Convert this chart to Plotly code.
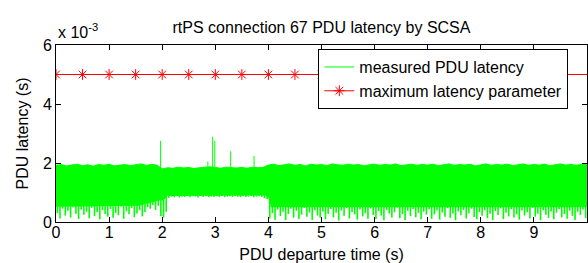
import numpy as np
import plotly.graph_objects as go

# ---- data (latency values in units of 1e-3 s) ----
# upper envelope of the measured PDU latency, every 0.1 s from 0.0 to 10.0 s
env_time = [round(0.1 * i, 1) for i in range(101)]
upper_ms = [
    1.92, 1.95, 1.90, 1.93, 1.96, 1.91, 1.94, 1.89, 1.95, 1.92,
    1.96, 1.90, 1.93, 1.95, 1.91, 1.94, 1.97, 1.92, 1.95, 1.93,
    1.80, 1.84, 1.82, 1.86, 1.83, 1.85, 1.81, 1.84, 1.86, 1.87,
    1.85, 1.82, 1.86, 1.84, 1.83, 1.85, 1.82, 1.86, 1.84, 1.85,
    1.93, 1.96, 1.91, 1.94, 1.97, 1.92, 1.95, 1.90, 1.96, 1.93,
    1.95, 1.91, 1.97, 1.94, 1.92, 1.96, 1.93, 1.95, 1.90, 1.94,
    1.96, 1.92, 1.95, 1.93, 1.97, 1.91, 1.94, 1.96, 1.92, 1.95,
    1.93, 1.96, 1.91, 1.94, 1.97, 1.92, 1.95, 1.93, 1.96, 1.90,
    1.94, 1.97, 1.92, 1.95, 1.93, 1.96, 1.91, 1.94, 1.97, 1.92,
    1.95, 1.93, 1.96, 1.91, 1.94, 1.97, 1.93, 1.95, 1.92, 1.96,
    1.94,
]
# solid lower edge of the dense band
floor_time = [0.0, 1.55, 1.8, 1.98, 2.02, 2.1, 3.95, 4.0, 4.05, 10.0]
floor_ms = [0.52, 0.55, 0.66, 0.75, 0.72, 0.88, 0.90, 0.82, 0.50, 0.50]
# downward excursions of the latency, every 0.05 s starting at 0.025 s
dip_ms = [
    0.30, 0.12, 0.45, 0.22, 0.38, 0.15, 0.50, 0.28, 0.10, 0.42,
    0.25, 0.35, 0.13, 0.48, 0.20, 0.33, 0.09, 0.40, 0.27, 0.18,
    0.44, 0.14, 0.31, 0.23, 0.52, 0.11, 0.36, 0.26, 0.47, 0.16,
    0.29, 0.40, 0.19, 0.34, 0.50, 0.45, 0.58, 0.41, 0.55, 0.20,
    0.15, 0.35, 0.82, 0.86, 0.84, 0.87, 0.83, 0.86, 0.85, 0.88,
    0.84, 0.87, 0.86, 0.83, 0.88, 0.85, 0.87, 0.84, 0.86, 0.85,
    0.87, 0.85, 0.88, 0.84, 0.86, 0.87, 0.85, 0.88, 0.86, 0.84,
    0.87, 0.85, 0.86, 0.88, 0.84, 0.86, 0.87, 0.85, 0.80, 0.78,
    0.12, 0.30, 0.08, 0.42, 0.20, 0.35, 0.06, 0.27, 0.45, 0.15,
    0.38, 0.10, 0.25, 0.48, 0.18, 0.32, 0.07, 0.40, 0.22, 0.14,
    0.36, 0.09, 0.28, 0.44, 0.16, 0.31, 0.05, 0.39, 0.21, 0.47,
    0.12, 0.34, 0.26, 0.08, 0.42, 0.19, 0.30, 0.11, 0.46, 0.24,
    0.10, 0.37, 0.22, 0.06, 0.41, 0.29, 0.15, 0.33, 0.49, 0.13,
    0.27, 0.07, 0.38, 0.20, 0.44, 0.16, 0.31, 0.09, 0.35, 0.25,
    0.43, 0.11, 0.26, 0.39, 0.08, 0.32, 0.18, 0.47, 0.14, 0.29,
    0.06, 0.36, 0.23, 0.41, 0.12, 0.30, 0.45, 0.17, 0.09, 0.34,
    0.21, 0.40, 0.13, 0.28, 0.07, 0.37, 0.24, 0.46, 0.10, 0.31,
    0.19, 0.43, 0.15, 0.26, 0.08, 0.39, 0.22, 0.33, 0.12, 0.48,
    0.18, 0.29, 0.06, 0.41, 0.25, 0.14, 0.36, 0.09, 0.32, 0.44,
    0.16, 0.27, 0.11, 0.38, 0.21, 0.07, 0.35, 0.24, 0.42, 0.13,
]
dip_time = [round(0.025 + 0.05 * i, 3) for i in range(len(dip_ms))]
# isolated latency spikes
spike_time = [1.97, 2.86, 2.95, 2.99, 3.29, 3.73]
spike_ms = [2.75, 2.05, 2.89, 2.75, 2.40, 2.24]

# maximum latency parameter
max_time = [0, 0.5, 1, 1.5, 2, 2.5, 3, 3.5, 4, 4.5, 5, 5.5, 6, 6.5, 7, 7.5, 8, 8.5, 9, 9.5]
max_ms = [5.0] * 20
max_end_time = [9.5, 10.0]
max_end_ms = [5.0, 5.0]

x_ticks = [0, 1, 2, 3, 4, 5, 6, 7, 8, 9]
y_ticks_ms = [0, 2, 4, 6]

S = 1e-3
green = "#00ff00"
fig = go.Figure()
# solid band
band_x = env_time + floor_time[::-1]
band_y = [u * S for u in upper_ms] + [f * S for f in floor_ms[::-1]]
fig.add_trace(go.Scatter(x=band_x, y=band_y, mode="none", fill="toself",
                         fillcolor=green, showlegend=False, legendgroup="m",
                         hoverinfo="skip"))
# upper edge (legend entry)
fig.add_trace(go.Scatter(x=env_time, y=[u * S for u in upper_ms], mode="lines",
                         line=dict(color=green, width=1),
                         name="measured PDU latency", legendgroup="m"))
# downward excursions and spikes
dx, dy = [], []
for t, v in zip(dip_time, dip_ms):
    dx += [t, t, None]
    dy += [1.2 * S, v * S, None]
fig.add_trace(go.Scatter(x=dx, y=dy, mode="lines", line=dict(color=green, width=1.6),
                         showlegend=False, legendgroup="m", hoverinfo="skip"))
sx, sy = [], []
for t, v in zip(spike_time, spike_ms):
    sx += [t, t, None]
    sy += [1.7 * S, v * S, None]
fig.add_trace(go.Scatter(x=sx, y=sy, mode="lines", line=dict(color=green, width=1),
                         showlegend=False, legendgroup="m", hoverinfo="skip"))
# maximum latency parameter
fig.add_trace(go.Scatter(x=max_end_time, y=[v * S for v in max_end_ms], mode="lines",
                         line=dict(color="red", width=1), showlegend=False))
fig.add_trace(go.Scatter(x=max_time, y=[v * S for v in max_ms], mode="lines+markers",
                         line=dict(color="red", width=1),
                         marker=dict(symbol="asterisk-open", size=9, color="red",
                                     line=dict(color="red", width=1)),
                         name="maximum latency parameter"))

font = dict(family="Liberation Sans, Arial, sans-serif", size=16, color="black")
fig.update_layout(
    width=588, height=263,
    margin=dict(l=56, r=1, t=45, b=41),
    paper_bgcolor="white", plot_bgcolor="white",
    font=font,
    title=dict(text="rtPS connection 67 PDU latency by SCSA", xref="paper", x=0.5,
               xanchor="center", yref="container", y=1 - 27 / 263, yanchor="middle",
               font=font),
    legend=dict(x=0.494, y=0.977, xanchor="left", yanchor="top",
                bgcolor="white", bordercolor="black", borderwidth=1,
                font=font, tracegroupgap=0, itemwidth=30),
    showlegend=True,
)
fig.update_xaxes(range=[0, 10], tickvals=x_ticks, ticktext=[str(v) for v in x_ticks],
                 showgrid=False, zeroline=False, showline=True, linecolor="black",
                 linewidth=1, mirror="ticks", ticks="inside", ticklen=5, tickcolor="black",
                 automargin=False, ticklabelstandoff=-4,
                 title=dict(text="PDU departure time (s)", standoff=10, font=font))
fig.update_yaxes(range=[0, 0.006], tickvals=[v * S for v in y_ticks_ms],
                 ticktext=[str(v) for v in y_ticks_ms],
                 showgrid=False, zeroline=False, showline=True, linecolor="black",
                 linewidth=1, mirror="ticks", ticks="inside", ticklen=5, tickcolor="black",
                 automargin=False,
                 title=dict(text="PDU latency (s)", standoff=10, font=font))
fig.add_annotation(text="x 10<sup>-3</sup>", xref="paper", yref="paper", x=0, y=1.0,
                   xanchor="left", yanchor="bottom", showarrow=False, font=font, yshift=2)
fig.write_html("out.html", config={"displayModeBar": False},
               post_script="document.body.style.margin='0';")
